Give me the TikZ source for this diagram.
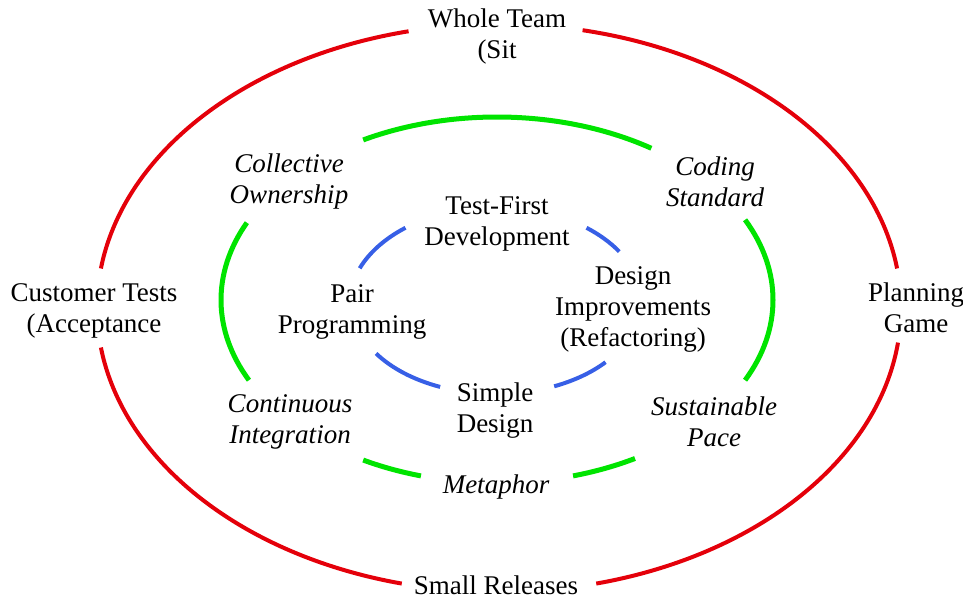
\documentclass[tikz,border=0pt]{standalone}
\usepackage{fontspec}
\setmainfont{Liberation Serif}
\usetikzlibrary{positioning}

\definecolor{ringred}{RGB}{228,0,10}
\definecolor{ringgreen}{RGB}{0,228,0}
\definecolor{ringblue}{RGB}{55,95,230}

\tikzset{
  practice/.style = {align=center, inner sep=0pt,
                     font=\fontsize{27}{31}\selectfont},
  teampr/.style   = {practice},
  grouppr/.style  = {practice, font=\fontsize{27}{31}\selectfont\itshape},
  corepr/.style   = {practice},
  redring/.style   = {ringred, line width=4pt},
  greenring/.style = {ringgreen, line width=5pt},
  bluering/.style  = {ringblue, line width=4pt}
}

\begin{document}
\begin{tikzpicture}[x=1pt,y=1pt]
\useasboundingbox (0,0) rectangle (963,600);
% centres des anneaux
\coordinate (RC) at (499,292);
\coordinate (GC) at (497,300);
\coordinate (BC) at (496,295);

% anneau exterieur
\node[teampr] (whole) at (497,563) {Whole Team\\(Sit};
\node[teampr] (cust)  at (94,289)  {Customer Tests\\(Acceptance};
\node[teampr] (plan)  at (916,292) {Planning\\Game};
\node[teampr] (small) at (496,15)  {Small Releases};

% anneau du milieu
\node[grouppr] (coll) at (289,418) {Collective\\Ownership};
\node[grouppr] (cods) at (715,418) {Coding\\Standard};
\node[grouppr] (cont) at (290,178) {Continuous\\Integration};
\node[grouppr] (sust) at (714,178) {Sustainable\\Pace};
\node[grouppr] (meta) at (496,113) {Metaphor};

% anneau interieur
\node[corepr] (tfd)  at (497,376) {Test-First\\Development};
\node[corepr] (pair) at (352,288) {Pair\\Programming};
\node[corepr] (desi) at (633,291) {Design\\Improvements\\(Refactoring)};
\node[corepr] (simp) at (495,189) {Simple\\Design};

% arcs rouges
\draw[redring] (RC) ++(103:402 and 284) arc[start angle=103, end angle=172, x radius=402, y radius=284];
\draw[redring] (RC) ++(188:402 and 284) arc[start angle=188, end angle=256, x radius=402, y radius=284];
\draw[redring] (RC) ++(284:402 and 284) arc[start angle=284, end angle=353, x radius=402, y radius=284];
\draw[redring] (RC) ++(8:402 and 284)   arc[start angle=8,   end angle=78,  x radius=402, y radius=284];

% arcs verts
\draw[greenring] (GC) ++(56:276 and 183)  arc[start angle=56,  end angle=119, x radius=276, y radius=183];
\draw[greenring] (GC) ++(155:276 and 183) arc[start angle=155, end angle=206, x radius=276, y radius=183];
\draw[greenring] (GC) ++(241:276 and 183) arc[start angle=241, end angle=254, x radius=276, y radius=183];
\draw[greenring] (GC) ++(286:276 and 183) arc[start angle=286, end angle=300, x radius=276, y radius=183];
\draw[greenring] (GC) ++(-26:276 and 183) arc[start angle=-26, end angle=26,  x radius=276, y radius=183];

% arcs bleus
\draw[bluering] (BC) ++(128:147 and 98) arc[start angle=128, end angle=158, x radius=147, y radius=98];
\draw[bluering] (BC) ++(33:147 and 98)  arc[start angle=33,  end angle=52,  x radius=147, y radius=98];
\draw[bluering] (BC) ++(213:143 and 89) arc[start angle=213, end angle=247, x radius=143, y radius=89];
\draw[bluering] (BC) ++(294:143 and 89) arc[start angle=294, end angle=320, x radius=143, y radius=89];
\end{tikzpicture}
\end{document}
